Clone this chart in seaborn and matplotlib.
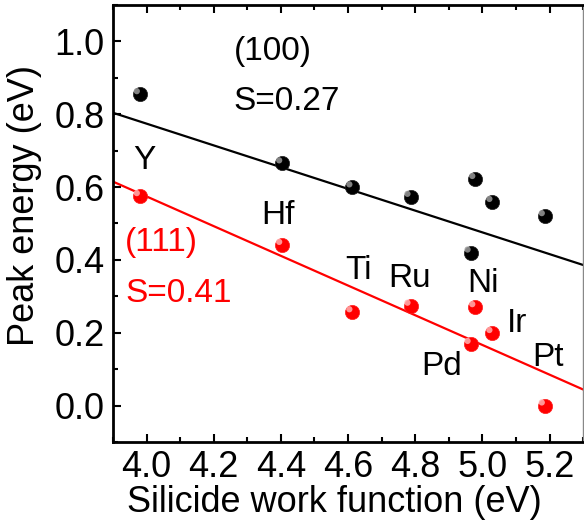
import matplotlib
matplotlib.use("Agg")
import matplotlib.pyplot as plt
import matplotlib.transforms as mtransforms
from matplotlib.ticker import MultipleLocator
import seaborn as sns
import pandas as pd

# Silicide work functions (eV) and peak energies for two orientations
metals = ["Y", "Hf", "Ti", "Ru", "Ni", "Pd", "Ir", "Pt"]
work_function = [3.98, 4.404, 4.613, 4.786, 4.979, 4.965, 5.030, 5.186]
peak_100 = [0.855, 0.665, 0.599, 0.573, 0.622, 0.420, 0.559, 0.520]
peak_111 = [0.575, 0.441, 0.256, 0.274, 0.270, 0.169, 0.199, 0.000]

# Linear fits (end points across the plotted range)
fit_x = [3.9, 5.3]
fit_100 = [0.804, 0.386]
fit_111 = [0.615, 0.044]

# Element label positions
label_x = [3.992, 4.390, 4.631, 4.784, 5.001, 4.879, 5.102, 5.195]
label_y = [0.674, 0.523, 0.372, 0.350, 0.336, 0.106, 0.224, 0.133]

sns.set_theme(style="ticks")
plt.rcParams["font.family"] = ["Liberation Sans", "DejaVu Sans"]

df = pd.DataFrame({"wf": work_function, "p100": peak_100, "p111": peak_111})
fits = pd.DataFrame({"x": fit_x, "f100": fit_100, "f111": fit_111})

fig = plt.figure(figsize=(5.84, 5.28), dpi=100)
ax = fig.add_axes([0.1935, 0.163, 0.805, 0.8275])

sns.lineplot(data=fits, x="x", y="f100", ax=ax, color="black", lw=1.6, zorder=2)
sns.lineplot(data=fits, x="x", y="f111", ax=ax, color="#ff0000", lw=1.6, zorder=2)

# Shaded spheres: dark body plus an offset highlight
hl = mtransforms.offset_copy(ax.transData, fig=fig, x=-2.2, y=2.2, units="points")
for col, body, shade, glow in [("p100", "black", "#202020", "#9a9a9a"),
                               ("p111", "#ff0000", "#ff2020", "#ffb0b0")]:
    sns.scatterplot(data=df, x="wf", y=col, ax=ax, s=105, color=body,
                    edgecolor=shade, linewidth=0.5, zorder=3)
    ax.scatter(df["wf"], df[col], s=20, color=glow, edgecolor="none",
               alpha=0.85, transform=hl, zorder=4)

ann = 24
for name, x, y in zip(metals, label_x, label_y):
    ax.text(x, y, name, fontsize=ann, ha="center", va="center", color="black")

ax.text(4.26, 0.971, "(100)", fontsize=ann, ha="left", va="center", color="black")
ax.text(4.26, 0.834, "S=0.27", fontsize=ann, ha="left", va="center", color="black")
ax.text(3.936, 0.449, "(111)", fontsize=ann, ha="left", va="center", color="#ff0000")
ax.text(3.936, 0.309, "S=0.41", fontsize=ann, ha="left", va="center", color="#ff0000")

ax.set_xlim(3.9, 5.3)
ax.set_ylim(-0.1, 1.1)
ax.xaxis.set_minor_locator(MultipleLocator(0.1))
ax.yaxis.set_minor_locator(MultipleLocator(0.1))
ax.set_xticks([4.0, 4.2, 4.4, 4.6, 4.8, 5.0, 5.2])
ax.set_xticklabels(["4.0", "4.2", "4.4", "4.6", "4.8", "5.0", "5.2"])
ax.set_yticks([0.0, 0.2, 0.4, 0.6, 0.8, 1.0])
ax.set_yticklabels(["0.0", "0.2", "0.4", "0.6", "0.8", "1.0"])

ax.tick_params(which="both", direction="in", top=True, right=False,
               labelsize=26, width=1.5, colors="black", pad=6)
ax.tick_params(which="major", length=6)
ax.tick_params(which="minor", length=3.5)

for side in ["left", "bottom", "top"]:
    ax.spines[side].set_linewidth(2)
    ax.spines[side].set_color("black")
ax.spines["right"].set_linewidth(1)
ax.spines["right"].set_color("#888888")

ax.set_xlabel("Silicide work function (eV)", fontsize=26, color="black")
ax.set_ylabel("Peak energy (eV)", fontsize=26, color="black")
ax.xaxis.set_label_coords(0.47, -0.098)
ax.yaxis.set_label_coords(-0.152, 0.542)

fig.savefig("out.png", dpi=100)
